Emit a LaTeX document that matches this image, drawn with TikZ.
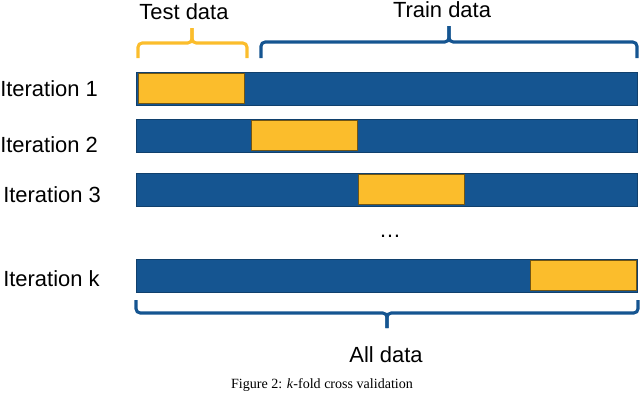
\documentclass[tikz,border=0pt]{standalone}
\usepackage{fontspec}
\setmainfont{Liberation Sans}
\newfontfamily\capfont{Liberation Serif}
\usetikzlibrary{positioning}

\definecolor{barblue}{RGB}{21,85,145}
\definecolor{baryellow}{RGB}{251,189,44}

\tikzset{
  bar/.style={draw=barblue!75!black, fill=barblue, line width=0.6pt,
    minimum width=12.525cm, minimum height=0.825cm, inner sep=0pt, anchor=north west},
  fold/.style={draw=baryellow!45!black, fill=baryellow, line width=0.6pt,
    minimum width=2.65cm, minimum height=0.75cm, inner sep=0pt, anchor=west},
  iterlabel/.style={anchor=base west, inner sep=0pt},
  brace/.style={line width=2.2pt, rounded corners=3pt},
}

\begin{document}
\begin{tikzpicture}[x=0.025cm, y=-0.025cm, font=\fontsize{15.6}{18}\selectfont]
    \useasboundingbox (0,0) rectangle (640,396);

    % pruhy s daty
    \node[bar] (bar1) at (136,72) {};
    \node[bar] (bar2) at (136,119) {};
    \node[bar] (bar3) at (136,173) {};
    \node[bar] (bark) at (136,259) {};

    % testovaci casti
    \node[fold] (fold1) at (138,88.5) {};
    \node[fold] (fold2) at (251,135.5) {};
    \node[fold] (fold3) at (358,189.5) {};
    \node[fold] (foldk) at (530,275.5) {};

    % popisky iteraci
    \node[iterlabel] (it1) at (0,96) {Iteration 1};
    \node[iterlabel] (it2) at (0,152) {Iteration 2};
    \node[iterlabel] (it3) at (3,202) {Iteration 3};
    \node[iterlabel] (itk) at (3,286) {Iteration k};
    \node (dots) at (390,236) {\dots};

    % zavorky nahore
    \draw[brace, baryellow] (138,58) |- (192,43) -- (192,28);
    \draw[brace, baryellow] (247,58) |- (192,43) -- (192,28);
    \node (test) at (184,12) {Test data};

    \draw[brace, barblue] (261,58) |- (449,42) -- (449,26);
    \draw[brace, barblue] (637,58) |- (449,42) -- (449,26);
    \node (train) at (442,10) {Train data};

    % zavorka dole
    \draw[brace, barblue] (136,300) |- (387,313) -- (387,328);
    \draw[brace, barblue] (638,300) |- (387,313) -- (387,328);
    \node (all) at (386,355) {All data};

    \node[font=\capfont\fontsize{10}{12}\selectfont] (caption) at (322,385)
        {Figure 2: \textit{k}-fold cross validation};
\end{tikzpicture}
\end{document}
